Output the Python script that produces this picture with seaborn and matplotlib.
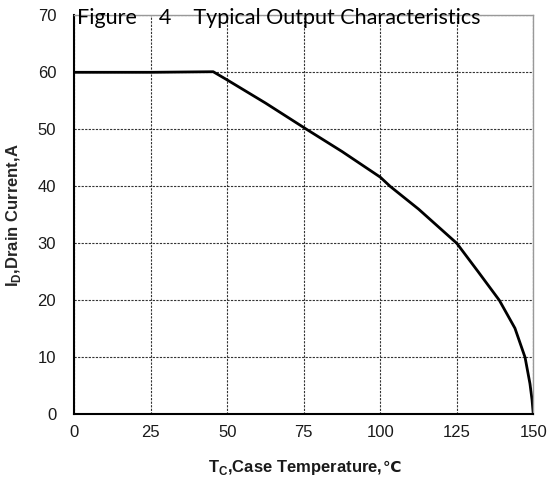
import matplotlib
matplotlib.use("Agg")
import matplotlib.pyplot as plt
import seaborn as sns
import pandas as pd

temperature = [0, 25, 45.4, 50, 62.5, 75.9, 87.5, 100, 103.2, 112.5, 125, 132.0, 138.9, 144.0, 147.3, 148.9, 149.6, 150]
current = [60, 60, 60.1, 58.65, 54.6, 50, 46.1, 41.6, 40, 36, 30, 25.0, 20, 15.1, 10.0, 5.4, 2.5, 0]
x_ticks = [0, 25, 50, 75, 100, 125, 150]
y_ticks = [0, 10, 20, 30, 40, 50, 60, 70]

df = pd.DataFrame({"Tc": temperature, "Id": current})

sns.set_style("white")
plt.rcParams['font.family'] = ['Liberation Sans', 'DejaVu Sans']

W, H = 549, 479
fig = plt.figure(figsize=(W / 100, H / 100), dpi=100)
ax = fig.add_axes([74.3 / W, (H - 414.3) / H, 459 / W, 399 / H])

sns.lineplot(data=df, x="Tc", y="Id", ax=ax, color="black", linewidth=2.0, sort=False)

ax.set_xlim(0, 150)
ax.set_ylim(0, 70)
ax.set_xticks(x_ticks)
ax.set_yticks(y_ticks)
ax.grid(True, color="#333333", linestyle=(0, (2, 1.2)), linewidth=0.8)
ax.tick_params(axis="x", labelsize=12, colors="#1a1a1a", length=0, pad=8)
ax.tick_params(axis="y", labelsize=12, colors="#1a1a1a", length=0, pad=13)

ax.spines["left"].set_color("black")
ax.spines["left"].set_linewidth(1.5)
ax.spines["bottom"].set_color("black")
ax.spines["bottom"].set_linewidth(1.5)
ax.spines["top"].set_color("#999999")
ax.spines["top"].set_linewidth(1.0)
ax.spines["right"].set_color("#999999")
ax.spines["right"].set_linewidth(1.0)

ax.set_xlabel("")
ax.set_ylabel(r"I$_\mathregular{D}$,Drain Current,A", fontsize=12, fontweight="bold")
ax.yaxis.set_label_coords(-0.112, 0.5)

# x label: main text (with subscript) plus degree sign from a font that has it
base_y = (H - 472) / H
xl_main = fig.text(0, base_y, r"T$_\mathregular{C}$,Case Temperature,", fontsize=12,
                   fontweight="bold", va="baseline", ha="left", color="#1a1a1a")
xl_deg = fig.text(0, base_y, "℃", fontsize=11, fontweight="bold",
                  family=["DejaVu Sans"], va="baseline", ha="left", color="#1a1a1a")

fig.text(77 / W, (H - 24) / H, "Figure    4    Typical Output Characteristics",
         fontsize=15.5, family=["Lato", "DejaVu Sans"], va="baseline", ha="left", color="black")

fig.canvas.draw()
r = fig.canvas.get_renderer()
w1 = xl_main.get_window_extent(r).width
w2 = xl_deg.get_window_extent(r).width
start = 304.5 - (w1 + w2 + 1) / 2
xl_main.set_x(start / W)
xl_deg.set_x((start + w1 + 1) / W)

fig.savefig("out.png", dpi=100)
